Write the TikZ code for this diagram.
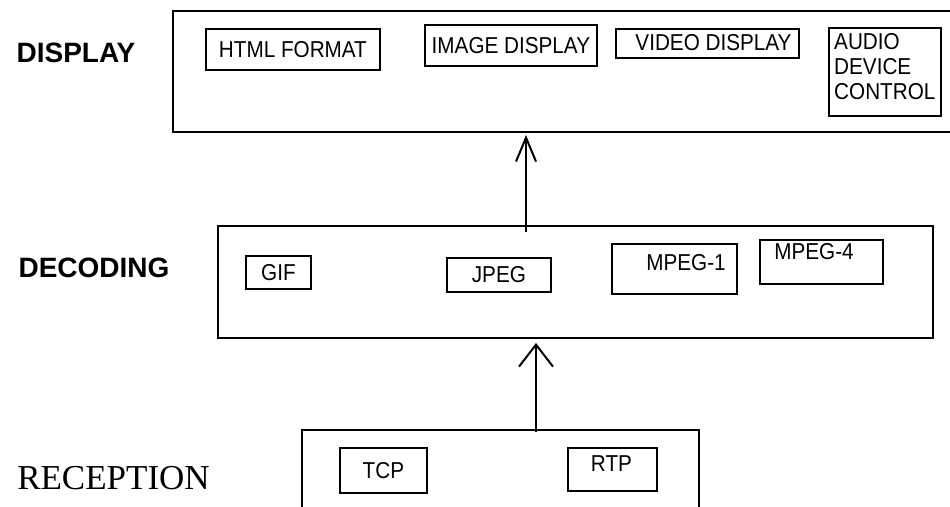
\documentclass[tikz,border=0pt]{standalone}
\usepackage{fontspec}
\usetikzlibrary{arrows.meta}
\newfontfamily\boxfont[FakeStretch=0.9]{Liberation Sans}
\newfontfamily\headfont{Liberation Sans}
\newfontfamily\serifhead{Liberation Serif}
\begin{document}
\begin{tikzpicture}[x=1pt,y=-1pt,
  layer/.style={draw, line width=2pt, inner sep=0pt, anchor=north west},
  item/.style={draw, line width=1.8pt, inner sep=0pt, anchor=north west,
    font={\boxfont\fontsize{23}{25}\selectfont}},
  itemtext/.style={inner sep=0pt, font={\boxfont\fontsize{23}{25}\selectfont}},
  sanshead/.style={inner sep=0pt, font={\headfont\bfseries\fontsize{28}{30}\selectfont}},
  serifheadstyle/.style={inner sep=0pt, font={\serifhead\fontsize{35}{37}\selectfont}},
  flow/.style={line width=2pt}]
\useasboundingbox (0,0) rectangle (950,506);
\fill[white] (0,0) rectangle (950,506);
\clip (0,0) rectangle (950,506);

% layer titles
\node[sanshead] (tdisplay) at (76,52.5) {DISPLAY};
\node[sanshead] (tdecoding) at (94,268) {DECODING};
\node[serifheadstyle] (treception) at (113.5,478) {RECEPTION};

% layer frames
\node[layer, minimum width=790pt, minimum height=121pt] (display) at (172,10) {};
\node[layer, minimum width=715pt, minimum height=112pt] (decoding) at (217,225) {};
\node[layer, minimum width=397pt, minimum height=100pt] (reception) at (301,429) {};

% display layer
\node[item, minimum width=174pt, minimum height=41pt] (html) at (205,28) {HTML FORMAT};
\node[item, minimum width=172pt, minimum height=41pt] (image) at (424,24) {IMAGE DISPLAY};
\node[item, minimum width=183pt, minimum height=29pt] (video) at (615,28) {};
\node[itemtext] (videotxt) at (713.5,42.5) {VIDEO DISPLAY};
\node[item, minimum width=112pt, minimum height=88pt] (audio) at (828,27) {};
\node[itemtext, anchor=north west, align=left] (audiotxt) at (834,33)
  {AUDIO\\[0pt]DEVICE\\[0pt]CONTROL};

% decoding layer
\node[item, minimum width=65pt, minimum height=33pt] (gif) at (245,255) {GIF};
\node[item, minimum width=104pt, minimum height=34pt] (jpeg) at (446,257) {JPEG};
\node[item, minimum width=125pt, minimum height=50pt] (mpeg1) at (611,243) {};
\node[itemtext] (mpeg1txt) at (686,262.5) {MPEG-1};
\node[item, minimum width=123pt, minimum height=44pt] (mpeg4) at (759,239) {};
\node[itemtext] (mpeg4txt) at (814,251.5) {MPEG-4};

% reception layer
\node[item, minimum width=87pt, minimum height=45pt] (tcp) at (339,447) {TCP};
\node[item, minimum width=89pt, minimum height=43pt] (rtp) at (567,447) {};
\node[itemtext] (rtptxt) at (611.5,464) {RTP};

% data flow between layers
\draw[flow, -{Straight Barb[length=24pt,width=20pt]}]
  ([shift={(309pt,-7pt)}]decoding.north west) -- ([shift={(354pt,-2pt)}]display.south west);
\draw[flow, -{Straight Barb[length=22pt,width=34pt]}]
  ([shift={(235pt,-3pt)}]reception.north west) -- ([shift={(319pt,-4pt)}]decoding.south west);
\end{tikzpicture}
\end{document}
